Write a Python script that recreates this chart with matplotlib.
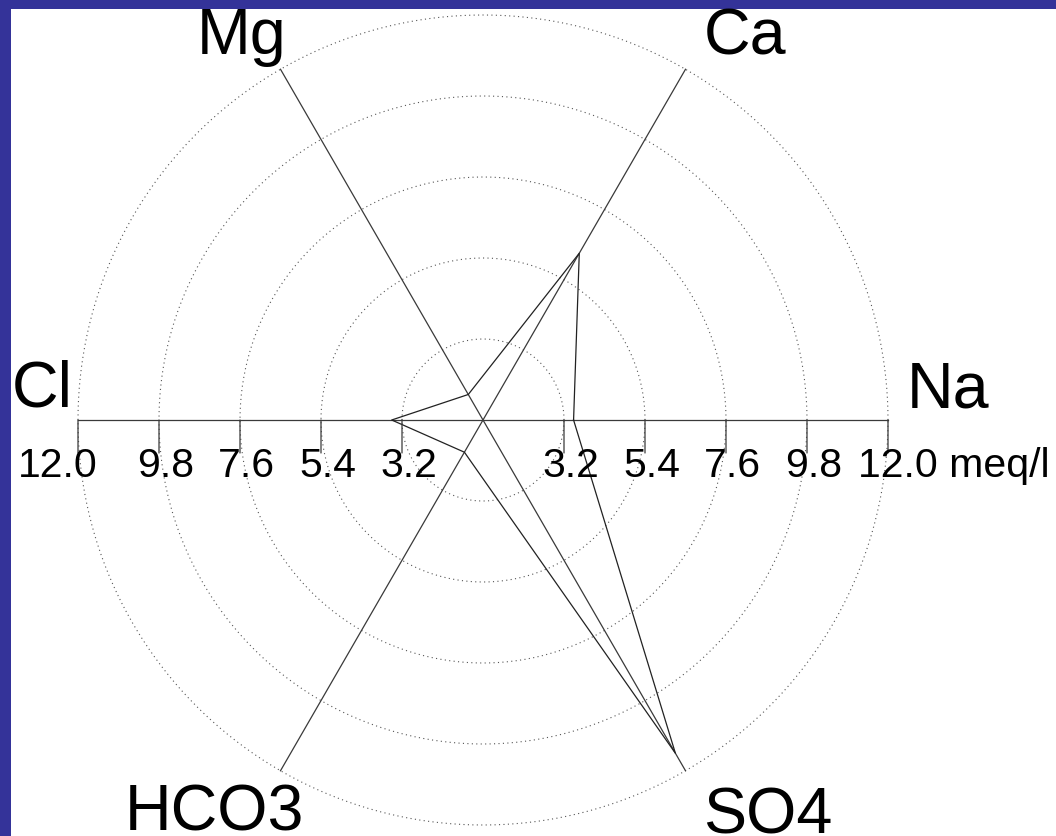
import numpy as np
import matplotlib
matplotlib.use("Agg")
import matplotlib.pyplot as plt
from matplotlib.patches import Rectangle

# Ion concentrations (meq/l) on a six-axis radial diagram
ions = ["Na", "Ca", "Mg", "Cl", "HCO3", "SO4"]
angles_deg = [0, 60, 120, 180, 240, 300]
values = [3.46, 6.23, 1.80, 3.48, 2.01, 11.45]

# Radial scale: centre is 1.0, rings every 2.2 meq/l
r_min = 1.0
ring_values = [3.2, 5.4, 7.6, 9.8, 12.0]
ring_labels = ["3.2", "5.4", "7.6", "9.8", "12.0"]
unit = "meq/l"

W, H, DPI = 1056, 836, 100
fig = plt.figure(figsize=(W / DPI, H / DPI), dpi=DPI)
fig.patch.set_facecolor("white")
# Blue frame along the left and top edges
frame = "#343399"
fig.patches.append(Rectangle((0, 0), 11 / W, 1, transform=fig.transFigure,
                             facecolor=frame, edgecolor="none", zorder=-5))
fig.patches.append(Rectangle((0, (H - 9) / H), 1, 9 / H, transform=fig.transFigure,
                             facecolor=frame, edgecolor="none", zorder=-5))

cx, cy, R = 483, 416, 405  # centre (from bottom-left) and radius in pixels
ax = fig.add_axes([(cx - R) / W, (cy - R) / H, 2 * R / W, 2 * R / H], projection="polar")
ax.set_ylim(r_min, ring_values[-1])
ax.grid(False)
ax.set_xticks([])
ax.set_yticks([])
ax.spines["polar"].set_visible(False)
ax.patch.set_visible(False)

theta = np.radians(angles_deg)
r_max = ring_values[-1]

# Dotted rings
tt = np.linspace(0, 2 * np.pi, 721)
for rv in ring_values:
    ax.plot(tt, np.full_like(tt, rv), color="#555555", lw=0.8,
            linestyle=(0, (1, 3)), clip_on=False)

# Three diameters (each axis runs through the centre to its opposite)
for th in theta[:3]:
    ax.plot([th, th, th + np.pi], [r_max, r_min, r_max], color="#3a3a3a",
            lw=0.9, clip_on=False)

# Ticks hanging below the horizontal axis
tick_len = 33
for side in (0.0, np.pi):
    for rv in ring_values:
        ax.annotate("", xy=(side, rv), xytext=(0, -tick_len), textcoords="offset pixels",
                    arrowprops=dict(arrowstyle="-", color="#3a3a3a", lw=0.9,
                                    shrinkA=0, shrinkB=0), annotation_clip=False)

# Tick labels
tick_font = dict(family="Liberation Sans", fontsize=29.5, color="black")
for side in (0.0, np.pi):
    for rv, lab in zip(ring_values, ring_labels):
        if lab == ring_labels[-1]:
            if side == 0.0:
                txt, dx = lab + " " + unit, -30
            else:
                txt, dx = lab, -60
        else:
            txt, dx = lab, -22
        ax.annotate(txt, xy=(side, rv), xytext=(dx, -57), textcoords="offset pixels",
                    ha="left", va="baseline", annotation_clip=False, **tick_font)

# Ion polygon
poly_t = np.append(theta, theta[0])
poly_r = np.append(values, values[0])
ax.plot(poly_t, poly_r, color="#222222", lw=0.9, clip_on=False)

# Axis names
name_font = dict(family="Liberation Sans", fontsize=46.5, color="black")
name_offsets = {
    "Na": (19, 13, "left"),
    "Ca": (18, 15, "left"),
    "Mg": (6, 15, "right"),
    "Cl": (-5, 13, "right"),
    "HCO3": (24, -60, "right"),
    "SO4": (18, -63, "left"),
}
for name, th in zip(ions, theta):
    dx, dy, ha = name_offsets[name]
    ax.annotate(name, xy=(th, r_max), xytext=(dx, dy), textcoords="offset pixels",
                ha=ha, va="baseline", annotation_clip=False, **name_font)

fig.savefig("out.png", dpi=DPI)
